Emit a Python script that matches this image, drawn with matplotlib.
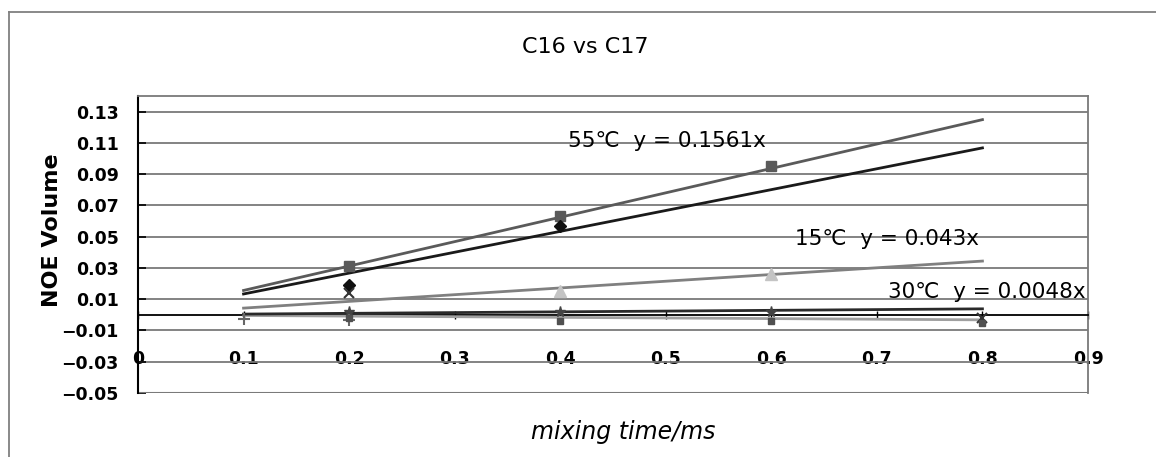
import matplotlib
matplotlib.use("Agg")
import numpy as np
import matplotlib.pyplot as plt
from matplotlib.lines import Line2D

plt.rcParams['font.family'] = ['DejaVu Sans', 'Noto Sans CJK JP']

# measured points (mixing time / ms, NOE volume)
dia_x = [0.2, 0.4]
dia_y = [0.019, 0.057]
sq_x = [0.2, 0.4, 0.6]
sq_y = [0.031, 0.063, 0.095]
tri_x = [0.4, 0.6]
tri_y = [0.015, 0.026]
cross_x = [0.2, 0.8]
cross_y = [0.014, -0.002]
star_x = [0.2, 0.4, 0.6]
star_y = [0.0015, 0.0015, 0.0015]
plus_x = [0.1, 0.2]
plus_y = [-0.0025, -0.003]
low_x = [0.2, 0.4, 0.6, 0.8]
low_y = [-0.002, -0.004, -0.004, -0.005]

# linear fits through origin, drawn over 0.1 .. 0.8
fit_x = [0.1, 0.8]
slope_55 = 0.1561
slope_dia = 0.1335
slope_15 = 0.043
slope_30 = 0.0048
slope_low = -0.004

fig = plt.figure(figsize=(11.56, 4.57), dpi=100)
ax = fig.add_axes([138/1156, 1 - 393/457, 950/1156, 297/457])

fx = np.array(fit_x)
ax.plot(fx, slope_55 * fx, color="#5a5a5a", lw=2, zorder=3)
ax.plot(fx, slope_dia * fx, color="#1a1a1a", lw=2, zorder=3)
ax.plot(fx, slope_15 * fx, color="#808080", lw=2, zorder=3)
ax.plot(fx, slope_low * fx, color="#a0a0a0", lw=2, zorder=3)
ax.plot(fx, slope_30 * fx, color="#2a2a2a", lw=2, zorder=3)

ax.plot(sq_x, sq_y, "s", color="#5a5a5a", ms=7.5, zorder=4)
ax.plot(dia_x, dia_y, "D", color="#111111", ms=6.5, zorder=4)
ax.plot(tri_x, tri_y, "^", color="#c4c4c4", ms=8, zorder=4)
ax.plot(cross_x, cross_y, "x", color="#333333", ms=7, mew=1.5, zorder=4)
ax.plot(star_x, star_y, "*", color="#444444", ms=8, zorder=4)
ax.plot(plus_x, plus_y, "+", color="#666666", ms=8, mew=1.5, zorder=4)
ax.plot(low_x, low_y, "s", color="#505050", ms=5, zorder=4)

ax.set_xlim(0, 0.9)
ax.set_ylim(-0.05, 0.14)
ax.set_xticks(np.arange(0, 0.91, 0.1))
ax.set_xticklabels(["0", "0.1", "0.2", "0.3", "0.4", "0.5", "0.6", "0.7", "0.8", "0.9"])
yt = np.arange(-0.05, 0.131, 0.02)
ax.set_yticks(yt)
ax.set_yticklabels([("%.2f" % v).replace("-", "\u2212") for v in yt])
ax.yaxis.grid(True, color="#7a7a7a", lw=1.3)
ax.set_axisbelow(True)

ax.spines['bottom'].set_position(('data', 0))
ax.spines['bottom'].set_color("black")
ax.spines['bottom'].set_linewidth(1.3)
ax.spines['left'].set_color("black")
ax.spines['left'].set_linewidth(1.5)
for s in ['top', 'right']:
    ax.spines[s].set_color("#7a7a7a")
    ax.spines[s].set_linewidth(1.3)
ax.axhline(-0.05, color="#7a7a7a", lw=1.5, zorder=1)

ax.tick_params(axis='x', direction='inout', length=6, width=1, pad=22,
               labelsize=12.5)
ax.tick_params(axis='y', direction='in', length=6, width=1.2, pad=14,
               labelsize=12.5)
for lab in ax.get_xticklabels() + ax.get_yticklabels():
    lab.set_fontweight('bold')

ax.text(0.4074, 0.111, "55℃  y = 0.1561x", fontsize=15.5, va='center', ha='left')
ax.text(0.6224, 0.0485, "15℃  y = 0.043x", fontsize=15.5, va='center', ha='left')
ax.text(0.7105, 0.0145, "30℃  y = 0.0048x", fontsize=15.5, va='center', ha='left')

fig.text(585/1156, 1 - 47/457, "C16 vs C17", fontsize=16, ha='center', va='center')
fig.text(52/1156, 1 - 230/457, "NOE Volume", fontsize=16, fontweight='bold',
         rotation=90, ha='center', va='center')
fig.text(623/1156, 1 - 432/457, "mixing time/ms", fontsize=17, style='italic',
         ha='center', va='center')

# chart frame (runs off the image at right and bottom)
fig.add_artist(Line2D([9/1156, 9/1156], [0, 1 - 12/457], transform=fig.transFigure,
                      color="#808080", lw=1.3))
fig.add_artist(Line2D([9/1156, 1], [1 - 12/457, 1 - 12/457], transform=fig.transFigure,
                      color="#808080", lw=1.3))

fig.savefig("out.png", dpi=100)
